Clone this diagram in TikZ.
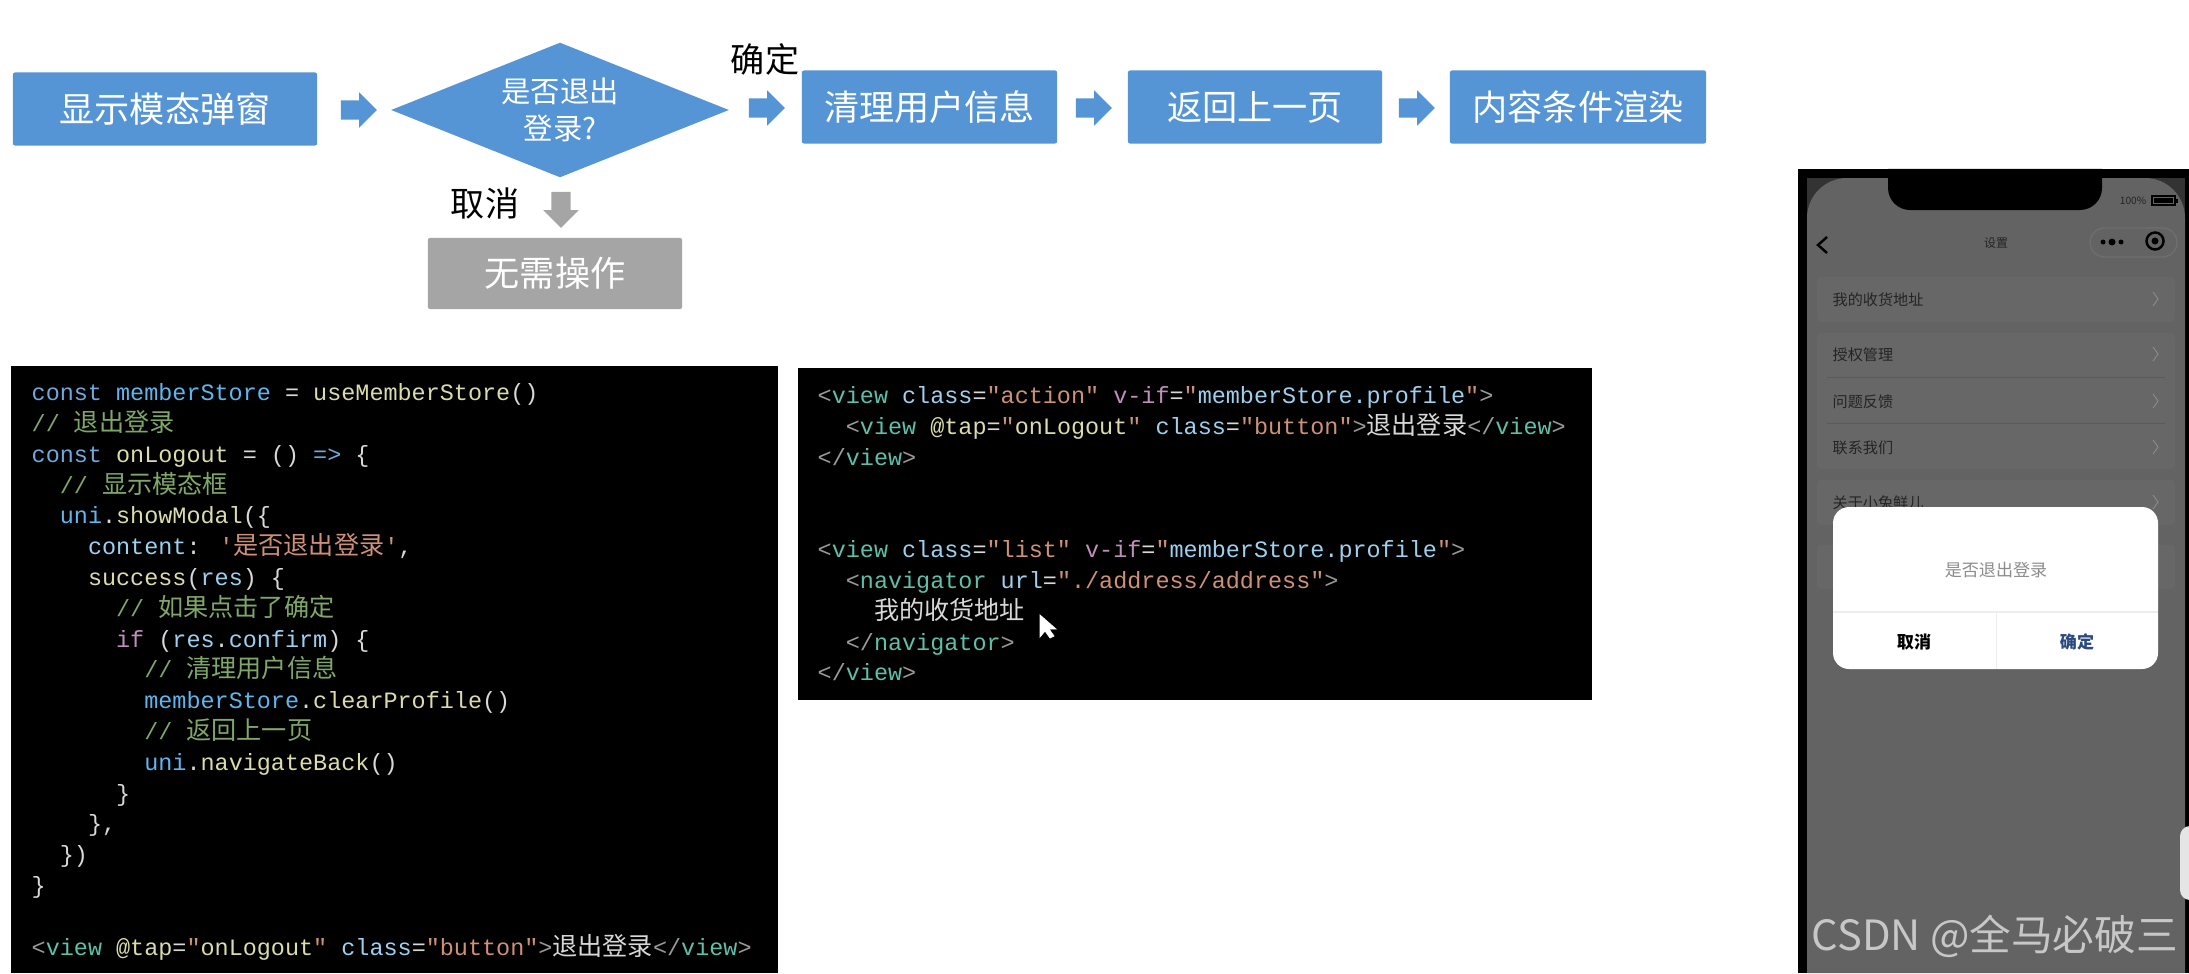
\documentclass[tikz,border=0pt]{standalone}
\usepackage{fontspec}
\usetikzlibrary{shapes.geometric, shapes.arrows}
\newfontfamily\cjk{Noto Sans CJK SC}
\newfontfamily\codefont{Liberation Mono}
\definecolor{flowblue}{HTML}{5595D6}
\definecolor{flowgray}{HTML}{A5A5A5}
\definecolor{kwblue}{HTML}{6FA8DC}
\definecolor{varblue}{HTML}{5FB6EE}
\definecolor{attrblue}{HTML}{9CD0EE}
\definecolor{fnyellow}{HTML}{DCDCAA}
\definecolor{cmtgreen}{HTML}{7FA868}
\definecolor{strorange}{HTML}{CE9178}
\definecolor{ifpurple}{HTML}{C08FBC}
\definecolor{tagteal}{HTML}{5FBFA8}
\definecolor{anglegray}{HTML}{999999}
\definecolor{codewhite}{HTML}{D8D8D8}
\definecolor{screengray}{HTML}{636363}
\definecolor{rowgray}{HTML}{676767}
\definecolor{capsuleline}{HTML}{6E6E6E}
\definecolor{rowline}{HTML}{5A5A5A}
\definecolor{cornergray}{HTML}{333333}
\definecolor{inktext}{HTML}{242424}
\definecolor{oknavy}{HTML}{2B4A7F}
\newcommand{\zhsize}[1]{\cjk\fontsize{#1}{#1}\selectfont}
\newcommand{\zh}[1]{{\zhsize{7.15}#1}}
\newcommand{\kw}[1]{\textcolor{kwblue}{#1}}
\newcommand{\vr}[1]{\textcolor{varblue}{#1}}
\newcommand{\at}[1]{\textcolor{attrblue}{#1}}
\newcommand{\fn}[1]{\textcolor{fnyellow}{#1}}
\newcommand{\cmt}[1]{\textcolor{cmtgreen}{#1}}
\newcommand{\str}[1]{\textcolor{strorange}{#1}}
\newcommand{\ifk}[1]{\textcolor{ifpurple}{#1}}
\newcommand{\tg}[1]{\textcolor{anglegray}{<}\textcolor{tagteal}{#1}}
\newcommand{\tgc}[1]{\textcolor{anglegray}{</}\textcolor{tagteal}{#1}\textcolor{anglegray}{>}}
\newcommand{\tge}{\textcolor{anglegray}{>}}
\newcommand{\shaft}{\rule{0pt}{0.18cm}}
\newcommand{\shaftdown}{\rule{0.18cm}{0pt}}
\begin{document}
\begin{tikzpicture}[x=0.01cm,y=-0.01cm,
    flowbox/.style={fill=flowblue,rounded corners=0.02cm,minimum height=0.73cm,inner sep=0pt,text=white,font=\zhsize{10}},
    blockarrow/.style={single arrow,fill=flowblue,inner sep=0pt,minimum height=0.36cm,single arrow head extend=0.08cm},
    codeblock/.style={anchor=north west,inner sep=0pt,align=left,text=codewhite,font=\codefont\fontsize{6.67}{8.76}\selectfont},
    rowlabel/.style={anchor=west,inner sep=0pt,text=inktext,font=\zhsize{4.3}},
    rowchevron/.style={draw=gray!90,line width=0.25pt}]
    \useasboundingbox (0,0) rectangle (2189,973);
    \fill[white] (0,0) rectangle (2189,973);

    \node[flowbox,minimum width=3.04cm] (showmodal) at (165,109) {显示模态弹窗};
    \node[diamond,fill=flowblue,aspect=2.5,inner sep=0pt,minimum width=3.38cm,minimum height=1.35cm] (asklogout) at (560,110) {};
    \node[inner sep=0pt,align=center,text=white,font=\zhsize{8.35}] (asktext) at (560,110) {是否退出\\[2.1pt]登录?};
    \node[flowbox,minimum width=2.55cm] (clearuser) at (929.5,107) {清理用户信息};
    \node[flowbox,minimum width=2.54cm] (goback) at (1255,107) {返回上一页};
    \node[flowbox,minimum width=2.56cm] (rendercontent) at (1578,107) {内容条件渲染};
    \node[flowbox,fill=flowgray,minimum width=2.54cm,minimum height=0.71cm] (noaction) at (555,273.5) {无需操作};

    \node[blockarrow] (arrowa) at (354,110) {\shaft};
    \node[blockarrow] (arrowb) at (762,108) {\shaft};
    \node[blockarrow] (arrowc) at (1089,108) {\shaft};
    \node[blockarrow] (arrowd) at (1412,108) {\shaft};
    \node[blockarrow,fill=flowgray,shape border rotate=270] (arrowe) at (561,205) {\shaftdown};

    \node[inner sep=0pt,font=\zhsize{9.7}] (confirmlabel) at (765,59) {确定};
    \node[inner sep=0pt,font=\zhsize{9.7}] (cancellabel) at (485,204) {取消};

    \fill[black] (11,366) rectangle (778,973);
    \node[codeblock] (codeleft) at (31,383) {%
        \kw{const} \vr{memberStore} = \fn{useMemberStore}()\\
        \cmt{// \zh{退出登录}}\\
        \kw{const} \fn{onLogout} = () \kw{=>} \{\\
        ~~\cmt{// \zh{显示模态框}}\\
        ~~\vr{uni}.\fn{showModal}(\{\\
        ~~~~\at{content}: \str{'\zh{是否退出登录}'},\\
        ~~~~\fn{success}(\at{res}) \{\\
        ~~~~~~\cmt{// \zh{如果点击了确定}}\\
        ~~~~~~\ifk{if} (\at{res}.\at{confirm}) \{\\
        ~~~~~~~~\cmt{// \zh{清理用户信息}}\\
        ~~~~~~~~\vr{memberStore}.\fn{clearProfile}()\\
        ~~~~~~~~\cmt{// \zh{返回上一页}}\\
        ~~~~~~~~\vr{uni}.\fn{navigateBack}()\\
        ~~~~~~\}\\
        ~~~~\},\\
        ~~\})\\
        \}\\
        ~\\
        \tg{view} \fn{@tap}=\str{"}\fn{onLogout}\str{"} \at{class}=\str{"button"}\tge\zh{退出登录}\tgc{view}};

    \fill[black] (798,368) rectangle (1592,700);
    \node[codeblock] (coderight) at (817,386) {%
        \tg{view} \at{class}=\str{"action"} \ifk{v-if}=\str{"}\at{memberStore.profile}\str{"}\tge\\
        ~~\tg{view} \fn{@tap}=\str{"}\fn{onLogout}\str{"} \at{class}=\str{"button"}\tge\zh{退出登录}\tgc{view}\\
        \tgc{view}\\
        ~\\
        ~\\
        \tg{view} \at{class}=\str{"list"} \ifk{v-if}=\str{"}\at{memberStore.profile}\str{"}\tge\\
        ~~\tg{navigator} \at{url}=\str{"./address/address"}\tge\\
        ~~~~\zh{我的收货地址}\\
        ~~\tgc{navigator}\\
        \tgc{view}};
    \draw[white,fill=white,line width=0.2pt] (1040,615) -- (1040,637) -- (1045,631) -- (1050,638) -- (1054,636) -- (1049,629) -- (1056,629) -- cycle;

    \fill[black] (1798,169) rectangle (2189,973);
    \fill[cornergray] (1807,178) rectangle (2185,225);
    \fill[screengray] (1807,973) [rounded corners=0.4cm] -- (1807,178) -- (2185,178) [sharp corners] -- (2185,973) -- cycle;
    \fill[black] (1888,169) [rounded corners=0.22cm] -- (1888,210) -- (2102,210) [sharp corners] -- (2102,169) -- cycle;

    \node[inner sep=0pt,text=inktext,font=\fontsize{2.9}{3}\selectfont\cjk] (batterytext) at (2133,201) {100\%};
    \draw[black,line width=0.5pt] (2152,196) rectangle (2175,205);
    \fill[black] (2154,198) rectangle (2173,203);
    \fill[black] (2176,198.5) rectangle (2178,202.5);
    \draw[black,line width=0.7pt] (1827,237) -- (1818,245) -- (1827,253);
    \node[inner sep=0pt,text=inktext,font=\zhsize{3.4}] (pagetitle) at (1996,243) {设置};
    \draw[capsuleline,fill=screengray,rounded corners=0.145cm] (2090,228) rectangle (2177,257);
    \foreach \dotx/\dotr in {2103/2.5,2112/3.5,2121/2.5}
        \fill[black] (\dotx,242) circle[radius=\dotr*0.01cm];
    \draw[black,line width=0.7pt] (2155,241) circle[radius=0.085cm];
    \fill[black] (2155,241) circle[radius=0.035cm];

    \fill[rowgray,rounded corners=0.04cm] (1817,277) rectangle (2175,322);
    \fill[rowgray,rounded corners=0.04cm] (1817,333) rectangle (2175,469);
    \fill[rowgray,rounded corners=0.04cm] (1817,480) rectangle (2175,525);
    \fill[rowgray,rounded corners=0.04cm] (1817,545) rectangle (2175,589);
    \draw[rowline,line width=0.25pt] (1827,377) -- (2165,377);
    \draw[rowline,line width=0.25pt] (1827,423) -- (2165,423);
    \node[rowlabel] (rowaddress) at (1832,300) {我的收货地址};
    \node[rowlabel] (rowauth) at (1832,355) {授权管理};
    \node[rowlabel] (rowfeedback) at (1832,402) {问题反馈};
    \node[rowlabel] (rowcontact) at (1832,448) {联系我们};
    \node[rowlabel] (rowabout) at (1832,503) {关于小兔鲜儿};
    \foreach \rowy in {299,354,401,447,502}
        \draw[rowchevron] (2153,\rowy-7) -- (2158,\rowy) -- (2153,\rowy+7);

    \fill[white,rounded corners=0.16cm] (1833,507) rectangle (2158,669);
    \draw[black!7,line width=0.3pt] (1833,612) -- (2158,612);
    \draw[black!7,line width=0.3pt] (1996,612) -- (1996,669);
    \node[inner sep=0pt,text=black!45,font=\zhsize{4.85}] (dialogtext) at (1996,570) {是否退出登录};
    \node[inner sep=0pt,font=\zhsize{4.85}\bfseries] (dialogcancel) at (1914,642) {取消};
    \node[inner sep=0pt,text=oknavy,font=\zhsize{4.85}\bfseries] (dialogok) at (2077,642) {确定};

    \fill[black!10,rounded corners=0.1cm] (2180,826) rectangle (2215,900);
    \node[inner sep=0pt,anchor=west,text=black!22,font=\zhsize{11.85}] (watermark) at (1811,936) {CSDN @全马必破三};
\end{tikzpicture}
\end{document}
